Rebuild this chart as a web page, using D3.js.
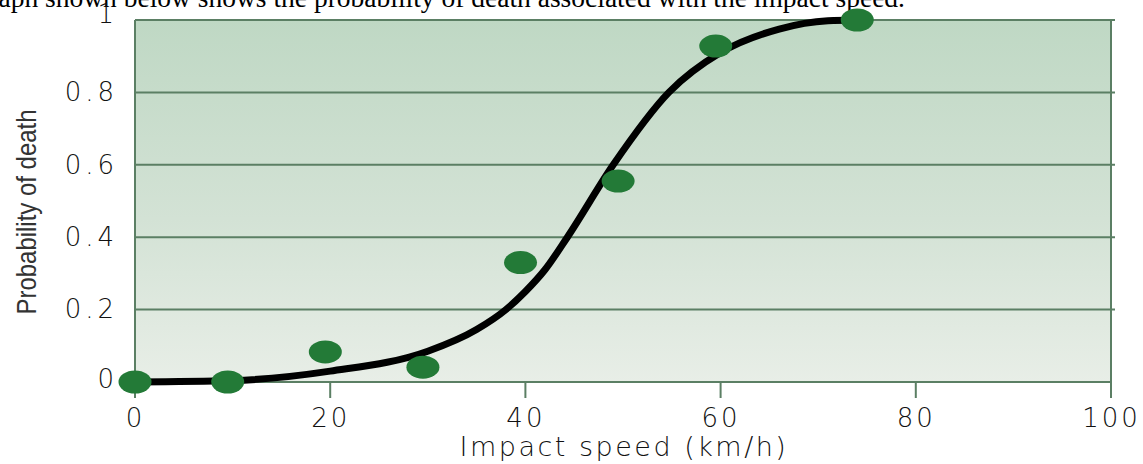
<!DOCTYPE html>
<html>
<head>
<meta charset="utf-8">
<script src="https://cdn.jsdelivr.net/npm/d3@7"></script>
<style>
  html, body { margin: 0; padding: 0; background: #fff; }
  svg { display: block; }
</style>
</head>
<body>
<script>
// ---- data ----
const xTicks = [0, 20, 40, 60, 80, 100];
const xTickLabels = ["0", "20", "40", "60", "80", "100"];
const yTicks = [0, 0.2, 0.4, 0.6, 0.8, 1];
const yTickLabels = ["0", "0.2", "0.4", "0.6", "0.8", "1"];
const speeds = [0, 9.5, 19.5, 29.5, 39.5, 49.5, 59.5, 74];
const deathProb = [0, 0, 0.083, 0.041, 0.33, 0.555, 0.928, 1.0];
const curveSpeed = [0, 10, 20, 30, 35, 38, 40, 42, 44.3, 49, 54.7, 60, 66, 71, 74];
const curveProb = [0, 0.004, 0.03, 0.085, 0.145, 0.2, 0.25, 0.31, 0.4, 0.6, 0.8, 0.91, 0.975, 0.998, 1.0];
const headerText = "The graph shown below shows the probability of death associated with the impact speed.";
const xTitle = "Impact speed (km/h)";
const yTitle = "Probability of death";

const W = 1143, H = 464;
const svg = d3.select("body").append("svg").attr("width", W).attr("height", H);

const x = d3.scaleLinear().domain([0, 100]).range([135, 1111]);
const y = d3.scaleLinear().domain([0, 1]).range([382, 20]);

// gradient background
const defs = svg.append("defs");
const grad = defs.append("linearGradient").attr("id", "bg").attr("x1", 0).attr("y1", 0).attr("x2", 0).attr("y2", 1);
grad.append("stop").attr("offset", "0%").attr("stop-color", "#bfd8c4");
grad.append("stop").attr("offset", "55%").attr("stop-color", "#d3e2d5");
grad.append("stop").attr("offset", "100%").attr("stop-color", "#e8eee7");

svg.append("rect")
  .attr("x", x(0)).attr("y", y(1))
  .attr("width", x(100) - x(0)).attr("height", y(0) - y(1))
  .attr("fill", "url(#bg)");

// header text (cut off at top)
svg.append("text")
  .attr("x", 905).attr("y", 7)
  .attr("text-anchor", "end")
  .attr("font-family", "'Liberation Serif', 'Times New Roman', serif")
  .attr("font-size", 27.5)
  .attr("fill", "#000")
  .text(headerText);

const gridColor = "#5b7f64";

// horizontal grid lines incl. top border
svg.append("g").selectAll("line").data(yTicks.filter(d => d > 0)).join("line")
  .attr("x1", x(0)).attr("x2", x(100) + 4)
  .attr("y1", d => y(d)).attr("y2", d => y(d))
  .attr("stroke", gridColor).attr("stroke-width", 2);

// bottom axis line
svg.append("line")
  .attr("x1", x(0)).attr("x2", x(100))
  .attr("y1", y(0)).attr("y2", y(0))
  .attr("stroke", gridColor).attr("stroke-width", 2);

// x axis via d3
const xAxis = d3.axisBottom(x).tickValues(xTicks)
  .tickFormat((d, i) => xTickLabels[i]).tickSize(0).tickPadding(0);
const gx = svg.append("g").attr("transform", `translate(0,${y(0)})`).call(xAxis);
gx.select(".domain").remove();
gx.selectAll("text")
  .attr("y", 45).attr("dy", null)
  .attr("font-family", "'DejaVu Sans', sans-serif")
  .attr("font-weight", 200)
  .attr("font-size", 26)
  .attr("letter-spacing", 3)
  .attr("fill", "#111");

// tick marks (vertical) at each x tick
svg.append("g").selectAll("line").data(xTicks).join("line")
  .attr("x1", d => x(d)).attr("x2", d => x(d))
  .attr("y1", d => (d === 0 || d === 100) ? y(1) : y(0))
  .attr("y2", y(0) + 16)
  .attr("stroke", gridColor).attr("stroke-width", 2);

// y axis labels via d3
const yAxis = d3.axisLeft(y).tickValues(yTicks)
  .tickFormat((d, i) => yTickLabels[i]).tickSize(0).tickPadding(0);
const gy = svg.append("g").attr("transform", `translate(${x(0) - 17},0)`).call(yAxis);
gy.select(".domain").remove();
gy.selectAll("text")
  .attr("font-family", "'DejaVu Sans', sans-serif")
  .attr("font-weight", 200)
  .attr("font-size", 26)
  .attr("letter-spacing", 4)
  .attr("fill", "#111");
gy.selectAll(".tick").filter(d => d === 1).select("text").attr("dy", "0.1em");
gy.selectAll(".tick").filter(d => d === 0).select("text").attr("dy", "0.22em");

// axis titles
svg.append("text")
  .attr("x", 624).attr("y", 456)
  .attr("text-anchor", "middle")
  .attr("font-family", "'DejaVu Sans', sans-serif")
  .attr("font-weight", 200)
  .attr("font-size", 27)
  .attr("letter-spacing", 2.5)
  .attr("fill", "#111")
  .text(xTitle);

svg.append("text")
  .attr("transform", "translate(36,212) rotate(-90)")
  .attr("text-anchor", "middle")
  .attr("font-family", "'Liberation Sans Narrow', 'Liberation Sans', sans-serif")
  .attr("font-size", 28)
  .attr("textLength", 205)
  .attr("lengthAdjust", "spacingAndGlyphs")
  .attr("fill", "#333")
  .text(yTitle);

// fitted curve
const curveData = curveSpeed.map((s, i) => [s, curveProb[i]]);
svg.append("path")
  .datum(curveData)
  .attr("d", d3.line().x(d => x(d[0])).y(d => y(d[1])).curve(d3.curveMonotoneX))
  .attr("fill", "none")
  .attr("stroke", "#000")
  .attr("stroke-width", 7)
  .attr("stroke-linecap", "round");

// data points
svg.append("g").selectAll("ellipse").data(speeds.map((s, i) => [s, deathProb[i]])).join("ellipse")
  .attr("cx", d => x(d[0])).attr("cy", d => y(d[1]))
  .attr("rx", 16.5).attr("ry", 11.5)
  .attr("fill", "#237a37");
</script>
</body>
</html>
